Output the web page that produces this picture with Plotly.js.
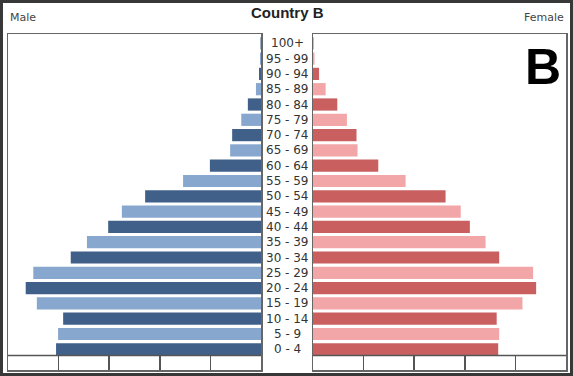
<!DOCTYPE html>
<html>
<head>
<meta charset="utf-8">
<script src="https://cdn.plot.ly/plotly-3.0.1.min.js"></script>
<style>
html,body{margin:0;padding:0;background:#fff;}
#wrap{position:relative;width:573px;height:376px;}
#chart{width:573px;height:376px;}
#frame{position:absolute;left:0;top:0;width:573px;height:376px;box-sizing:border-box;border:3px solid #383838;pointer-events:none;}
</style>
</head>
<body>
<div id="wrap"><div id="chart"></div><div id="frame"></div></div>
<script>
const ages = ["0 - 4","5 - 9","10 - 14","15 - 19","20 - 24","25 - 29","30 - 34","35 - 39","40 - 44","45 - 49","50 - 54","55 - 59","60 - 64","65 - 69","70 - 74","75 - 79","80 - 84","85 - 89","90 - 94","95 - 99","100+"];
const male = [4.05,4.01,3.91,4.43,4.65,4.50,3.76,3.44,3.02,2.75,2.29,1.54,1.01,0.61,0.57,0.39,0.26,0.10,0.04,0.02,0.01];
const female = [3.66,3.68,3.63,4.14,4.41,4.35,3.68,3.41,3.10,2.92,2.62,1.83,1.29,0.88,0.86,0.67,0.48,0.25,0.12,0.03,0.01];
const tickValues = [0,1,2,3,4,5];
const maleColors = ["#40608a","#87a7ce"];
const femaleColors = ["#c9605f","#f2a6a8"];

const W = 573, H = 376;
const px = v => v / W;
const py = v => (H - v) / H;

const traces = [
  {type:'bar', orientation:'h', y: ages, x: male, xaxis:'x', yaxis:'y',
   marker:{color: ages.map((a,i)=>maleColors[i%2])}, width:0.8, hoverinfo:'skip'},
  {type:'bar', orientation:'h', y: ages, x: female, xaxis:'x2', yaxis:'y2',
   marker:{color: ages.map((a,i)=>femaleColors[i%2])}, width:0.8, hoverinfo:'skip'}
];

const yr = [-1.353, 20.608];
const axisCommon = {showline:true, mirror:true, linecolor:'#666', linewidth:1.5,
  showgrid:false, zeroline:false, ticks:'inside', ticklen:14, tickcolor:'#555', tickwidth:1.5,
  tickvals: tickValues, showticklabels:false, fixedrange:true};
const yCommon = {showline:true, mirror:true, linecolor:'#666', linewidth:1.5,
  showgrid:false, zeroline:false, ticks:'', showticklabels:false, range: yr,
  domain:[py(370), py(34)], fixedrange:true};

const annotations = ages.map(a => ({
  x: px(287), xref:'paper', y: a, yref:'y', text: a, showarrow:false,
  xanchor:'center', yanchor:'middle', font:{family:'DejaVu Sans', size:12, color:'#333'}
}));
annotations.push({x:px(287), xref:'paper', y:py(13), yref:'paper', text:'<b>Country B</b>',
  showarrow:false, xanchor:'center', yanchor:'middle', font:{family:'Liberation Sans, Arial', size:15, color:'#222'}});
annotations.push({x:px(8), xref:'paper', y:py(18), yref:'paper', text:'Male',
  showarrow:false, xanchor:'left', yanchor:'middle', font:{family:'DejaVu Sans', size:11, color:'#444'}});
annotations.push({x:px(566), xref:'paper', y:py(18), yref:'paper', text:'Female',
  showarrow:false, xanchor:'right', yanchor:'middle', font:{family:'DejaVu Sans', size:11, color:'#444'}});
annotations.push({x:px(543), xref:'paper', y:py(67), yref:'paper', text:'<b>B</b>',
  showarrow:false, xanchor:'center', yanchor:'middle', font:{family:'Liberation Sans, Arial', size:50, color:'#000'}});

const layout = {
  width: W, height: H, margin:{l:0,r:0,t:0,b:0},
  paper_bgcolor:'#fff', plot_bgcolor:'#fff', showlegend:false,
  xaxis: Object.assign({}, axisCommon, {domain:[px(8), px(261)], range:[5,0], anchor:'y'}),
  xaxis2: Object.assign({}, axisCommon, {domain:[px(313), px(566)], range:[0,5], anchor:'y2'}),
  yaxis: Object.assign({}, yCommon, {anchor:'x'}),
  yaxis2: Object.assign({}, yCommon, {anchor:'x2', matches:'y'}),
  annotations: annotations,
  shapes: [
    {type:'line', xref:'x domain', x0:0, x1:1, yref:'paper', y0:py(355.5), y1:py(355.5), line:{color:'#555', width:1.5}},
    {type:'line', xref:'x2 domain', x0:0, x1:1, yref:'paper', y0:py(355.5), y1:py(355.5), line:{color:'#555', width:1.5}}
  ]
};

Plotly.newPlot('chart', traces, layout, {displayModeBar:false, staticPlot:true});
</script>
</body>
</html>
